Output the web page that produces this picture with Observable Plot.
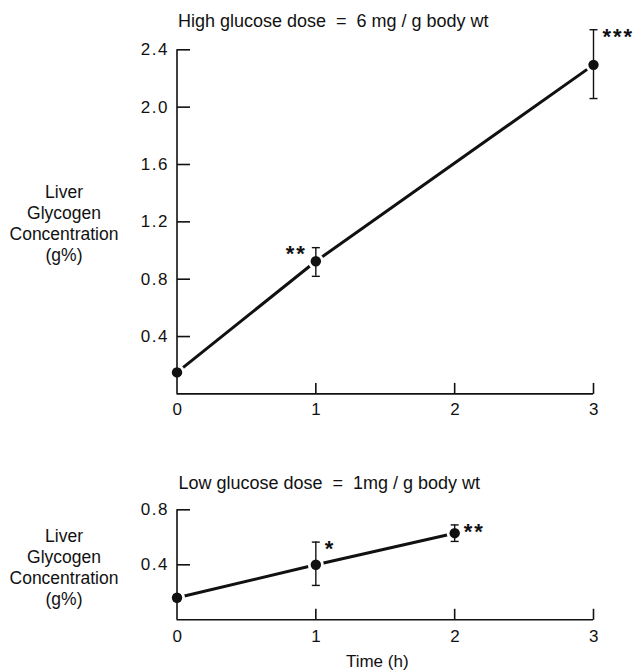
<!DOCTYPE html>
<html>
<head>
<meta charset="utf-8">
<script src="https://cdn.jsdelivr.net/npm/d3@7"></script>
<script src="https://cdn.jsdelivr.net/npm/@observablehq/plot@0.6"></script>
<style>
  html, body { margin: 0; padding: 0; background: #fff; }
  #chart { width: 634px; }
  #chart svg { display: block; overflow: visible; }
  #chart g[aria-label="y-axis tick label"],
  #chart g[aria-label="x-axis tick label"] { font-size: 17px; }
  #chart g[aria-label="y-axis tick label"] text,
  #chart g[aria-label="x-axis tick label"] text { letter-spacing: 1.5px; }
  #chart g.stars text { letter-spacing: 2px; }
</style>
</head>
<body>
<div id="chart"></div>
<script>
// ---- data ----
const xTicks = [0, 1, 2, 3];

const highTitle = "High glucose dose  =  6 mg / g body wt";
const highTimes = [0, 1, 3];
const highMean  = [0.15, 0.925, 2.295];
const highLower = [0.13, 0.82, 2.06];
const highUpper = [0.17, 1.02, 2.54];
const highSig   = ["", "**", "***"];
const highYTicks = [0.4, 0.8, 1.2, 1.6, 2.0, 2.4];

const lowTitle = "Low glucose dose  =  1mg / g body wt";
const lowTimes = [0, 1, 2];
const lowMean  = [0.16, 0.40, 0.63];
const lowLower = [0.14, 0.25, 0.57];
const lowUpper = [0.18, 0.565, 0.69];
const lowSig   = ["", "*", "**"];
const lowYTicks = [0.4, 0.8];

const yLabel = ["Liver", "Glycogen", "Concentration", "(g%)"];
const xLabel = "Time (h)";

// ---- custom line symbols (sized by r in pixels) ----
const radius = size => Math.sqrt(size / Math.PI);
const hCap = { draw(ctx, size) { const r = radius(size); ctx.moveTo(-r, 0); ctx.lineTo(r, 0); } };
const tickRight = { draw(ctx, size) { const r = radius(size); ctx.moveTo(0, 0); ctx.lineTo(r, 0); } };
const tickUp = { draw(ctx, size) { const r = radius(size); ctx.moveTo(0, 0); ctx.lineTo(0, -r); } };

const FONT = "Liberation Sans";
const INK = "#111";

function panel(o) {
  const rows = o.times.map((t, i) => ({ t, m: o.mean[i], lo: o.lower[i], hi: o.upper[i], s: o.sig[i], left: o.sigLeft.includes(t) }));
  const yMax = o.yTicks[o.yTicks.length - 1];
  return Plot.plot({
    width: 634,
    height: o.height,
    marginLeft: 176.5,
    marginRight: 41,
    marginTop: o.marginTop,
    marginBottom: o.marginBottom,
    style: { fontFamily: FONT, fontSize: "17px", color: INK, background: "#fff" },
    x: { domain: [0, 3], axis: null },
    y: { domain: [0, yMax], axis: null },
    marks: [
      Plot.line(rows, { x: "t", y: "m", stroke: INK, strokeWidth: 3 }),
      Plot.dot(rows, { x: "t", y: "m", r: 8, fill: "white", stroke: null }),
      // axes
      Plot.ruleX([0], { y1: 0, y2: yMax, stroke: INK, strokeWidth: 1.6 }),
      Plot.ruleY([0], { x1: 0, x2: 3, stroke: INK, strokeWidth: 1.6 }),
      Plot.dot(o.yTicks, { x: () => 0, y: d => d, symbol: tickRight, r: 13, stroke: INK, strokeWidth: 1.6 }),
      Plot.dot(xTicks.filter(d => d > 0), { x: d => d, y: () => 0, symbol: tickUp, r: 11, stroke: INK, strokeWidth: 1.6 }),
      Plot.axisY({ ticks: o.yTicks, tickSize: 0, tickPadding: 8, tickFormat: d3.format(".1f"), label: null, fill: INK }),
      Plot.axisX({ ticks: xTicks, tickSize: 0, tickPadding: o.xPad, tickFormat: d => String(d), label: null, fill: INK, dx: 1 }),
      // error bars
      Plot.ruleX(rows, { x: "t", y1: "lo", y2: "hi", stroke: INK, strokeWidth: 1.4 }),
      Plot.dot(rows, { x: "t", y: "lo", symbol: hCap, r: 4, stroke: INK, strokeWidth: 1.4 }),
      Plot.dot(rows, { x: "t", y: "hi", symbol: hCap, r: 4, stroke: INK, strokeWidth: 1.4 }),
      Plot.dot(rows, { x: "t", y: "m", r: 5.2, fill: INK, stroke: null }),
      // significance stars
      Plot.text(rows.filter(d => d.s && !d.left), { x: "t", y: "hi", text: "s", textAnchor: "start", dx: 9, dy: 7, fontSize: 22, fontWeight: "bold", fill: INK, className: "stars" }),
      Plot.text(rows.filter(d => d.s && d.left), { x: "t", y: "hi", text: "s", textAnchor: "end", dx: -9, dy: 6, fontSize: 22, fontWeight: "bold", fill: INK, className: "stars" }),
      // titles and labels
      Plot.text([o.title], { text: d => d, frameAnchor: "top", lineAnchor: "middle", dx: o.titleDx, dy: o.titleDy, fontSize: 18, fill: INK }),
      Plot.text([yLabel.join("\n")], { text: d => d, frameAnchor: "left", lineAnchor: "middle", dx: -113, dy: o.labelDy, lineHeight: 1.2, textAnchor: "middle", fontSize: 17.5, fill: INK }),
      ...(o.xLabel ? [Plot.text([o.xLabel], { text: d => d, frameAnchor: "bottom", lineAnchor: "middle", dx: -8, dy: 41.5, fontSize: 17, fill: INK })] : [])
    ]
  });
}

const chart = document.getElementById("chart");
chart.append(panel({
  times: highTimes, mean: highMean, lower: highLower, upper: highUpper, sig: highSig, sigLeft: [1],
  yTicks: highYTicks, height: 430, marginTop: 49.3, marginBottom: 36.6, xPad: 9,
  title: highTitle, titleDx: -52, titleDy: -29, labelDy: 1
}));
chart.append(panel({
  times: lowTimes, mean: lowMean, lower: lowLower, upper: lowUpper, sig: lowSig, sigLeft: [],
  yTicks: lowYTicks, height: 240, marginTop: 79.3, marginBottom: 50.7, xPad: 10,
  title: lowTitle, titleDx: -56, titleDy: -27, labelDy: 2, xLabel: xLabel
}));
</script>
</body>
</html>
